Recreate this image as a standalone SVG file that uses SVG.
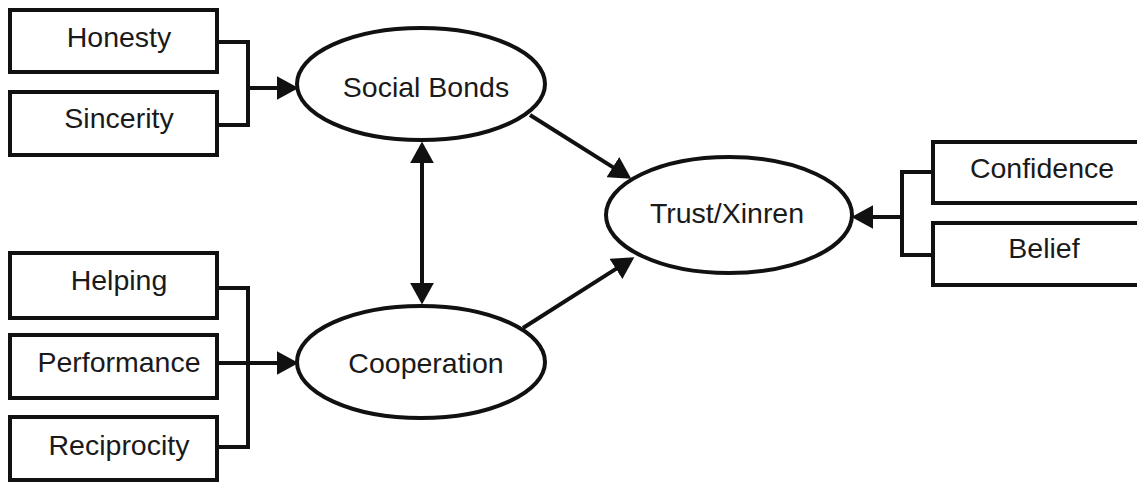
<svg xmlns="http://www.w3.org/2000/svg" width="1137" height="483" viewBox="0 0 1137 483">
<style>
.box{fill:#fff;stroke:#111;stroke-width:4}
.ell{fill:#fff;stroke:#111;stroke-width:4}
.t{font-family:"Liberation Sans",Arial,sans-serif;font-size:28.5px;fill:#1a1a1a;text-anchor:middle}
.c{fill:none;stroke:#111;stroke-width:4}
</style>
<defs>
<marker id="ah" markerUnits="userSpaceOnUse" markerWidth="22" markerHeight="24" refX="3" refY="11" orient="auto-start-reverse" viewBox="0 0 20 22">
<path d="M0,0 L20,11 L0,22 z" fill="#111"/>
</marker>
</defs>
<rect width="1137" height="483" fill="#fff"/>
<g id="connectors">
<path class="c" d="M217,42 H248 V125 H217"/>
<path class="c" d="M248,88 H280" marker-end="url(#ah)"/>
<path class="c" d="M217,288 H248 V447 H217"/>
<path class="c" d="M217,363 H280" marker-end="url(#ah)"/>
<path class="c" d="M933,172 H902 V255 H933"/>
<path class="c" d="M902,217 H870" marker-end="url(#ah)"/>
<path class="c" d="M530,115 L615.6,168.9" marker-end="url(#ah)"/>
<path class="c" d="M523,328 L618.7,267.1" marker-end="url(#ah)"/>
<path class="c" d="M422,160 V286" marker-start="url(#ah)" marker-end="url(#ah)"/>
</g>
<g id="honesty"><rect class="box" x="10" y="10" width="207" height="62"/><text class="t" x="119" y="47">Honesty</text></g>
<g id="sincerity"><rect class="box" x="10" y="92" width="207" height="63"/><text class="t" x="119" y="128">Sincerity</text></g>
<g id="helping"><rect class="box" x="10" y="253" width="207" height="65"/><text class="t" x="119" y="290">Helping</text></g>
<g id="performance"><rect class="box" x="10" y="335" width="207" height="63"/><text class="t" x="119" y="372">Performance</text></g>
<g id="reciprocity"><rect class="box" x="10" y="417" width="207" height="63"/><text class="t" x="119" y="455">Reciprocity</text></g>
<g id="social-bonds"><ellipse class="ell" cx="421" cy="84" rx="124" ry="56"/><text class="t" x="426" y="97">Social Bonds</text></g>
<g id="cooperation"><ellipse class="ell" cx="421" cy="362" rx="124" ry="56"/><text class="t" x="426" y="373">Cooperation</text></g>
<g id="trust"><ellipse class="ell" cx="729" cy="215" rx="123" ry="58"/><text class="t" x="727" y="223">Trust/Xinren</text></g>
<g id="confidence"><rect class="box" x="933" y="142" width="220" height="61"/><text class="t" x="1042" y="178">Confidence</text></g>
<g id="belief"><rect class="box" x="933" y="223" width="220" height="62"/><text class="t" x="1044" y="258">Belief</text></g>
</svg>
